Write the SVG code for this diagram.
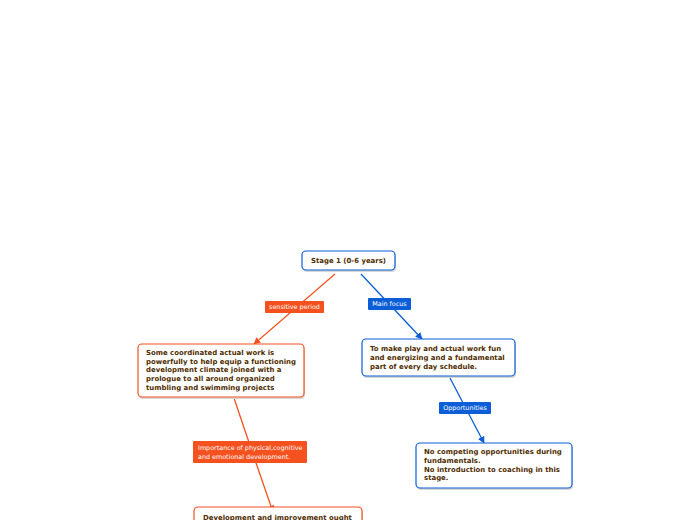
<svg xmlns="http://www.w3.org/2000/svg" width="696" height="520" viewBox="0 0 696 520">
<defs>
<style>
.node{fill:#fff;stroke-width:1.2}
.sh{fill:#d8d8d8}
.o{stroke:#f4511e}
.b{stroke:#0b5ed7}
.t{font-family:"DejaVu Sans",Verdana,sans-serif;font-weight:bold;font-size:6.95px;fill:#4f2c00}
.lb{font-family:"DejaVu Sans",Verdana,sans-serif;font-size:6.4px;fill:#fff}
.lo{fill:#f4511e}
.lbb{fill:#0b5ed7}
.c{fill:none;stroke-width:1.3}
</style>
<marker id="ao" viewBox="0 0 10 10" refX="9" refY="5" markerWidth="7" markerHeight="7" orient="auto" markerUnits="userSpaceOnUse"><path d="M0,0 L10,5 L0,10 z" fill="#f4511e"/></marker>
<marker id="ab" viewBox="0 0 10 10" refX="9" refY="5" markerWidth="7" markerHeight="7" orient="auto" markerUnits="userSpaceOnUse"><path d="M0,0 L10,5 L0,10 z" fill="#0b5ed7"/></marker>
</defs>
<rect width="696" height="520" fill="#fff"/>
<g id="connectors">
<path class="c" d="M335,274 L254,344" stroke="#f4511e" marker-end="url(#ao)"/>
<path class="c" d="M361,274 L422,339" stroke="#0b5ed7" marker-end="url(#ab)"/>
<path class="c" d="M450,378 L484,443" stroke="#0b5ed7" marker-end="url(#ab)"/>
<path class="c" d="M234,398 Q248,440 273,512" stroke="#f4511e" marker-end="url(#ao)"/>
<g id="label-sensitive"><rect class="lo" x="265" y="301" width="59" height="12" rx="1"/><text class="lb" x="294.5" y="309.4" text-anchor="middle">sensitive period</text></g>
<g id="label-main"><rect class="lbb" x="368" y="298" width="43" height="12" rx="1"/><text class="lb" x="389.5" y="306.4" text-anchor="middle">Main focus</text></g>
<g id="label-opp"><rect class="lbb" x="439" y="402" width="52" height="12" rx="1"/><text class="lb" x="465" y="410.4" text-anchor="middle">Opportunities</text></g>
<g id="label-importance"><rect class="lo" x="193" y="441" width="114" height="22" rx="1"/><text class="lb" x="198" y="449.6">Importance of physical,cognitive</text><text class="lb" x="198" y="458.6">and emotional development.</text></g>
</g>
<g id="root"><rect class="sh" x="303" y="253" width="93" height="19" rx="4"/><rect class="node b" x="302" y="251" width="93" height="19" rx="4"/><text class="t" x="348.5" y="263.3" text-anchor="middle">Stage 1 (0-6 years)</text></g>
<g id="n-left"><rect class="sh" x="139" y="346" width="166" height="53" rx="4"/><rect class="node o" x="138" y="344" width="166" height="53" rx="4"/>
<text class="t"><tspan x="146" y="355">Some coordinated actual work is</tspan><tspan x="146" y="363.5">powerfully to help equip a functioning</tspan><tspan x="146" y="372">development climate joined with a</tspan><tspan x="146" y="380.8">prologue to all around organized</tspan><tspan x="146" y="389.5">tumbling and swimming projects</tspan></text></g>
<g id="n-right"><rect class="sh" x="363" y="341" width="153" height="37" rx="4"/><rect class="node b" x="362" y="339" width="153" height="37" rx="4"/>
<text class="t"><tspan x="370" y="351.3">To make play and actual work fun</tspan><tspan x="370" y="360">and energizing and a fundamental</tspan><tspan x="370" y="368.6">part of every day schedule.</tspan></text></g>
<g id="n-opp"><rect class="sh" x="417" y="445" width="156" height="45" rx="4"/><rect class="node b" x="416" y="443" width="156" height="45" rx="4"/>
<text class="t"><tspan x="424" y="454.2">No competing opportunities during</tspan><tspan x="424" y="462.6">fundamentals.</tspan><tspan x="424" y="471.6">No introduction to coaching in this</tspan><tspan x="424" y="480">stage.</tspan></text></g>
<g id="n-bottom"><rect class="sh" x="195" y="509" width="168" height="30" rx="4"/><rect class="node o" x="194" y="507" width="168" height="30" rx="4"/>
<text class="t"><tspan x="203" y="519.5">Development and improvement ought</tspan></text></g>
</svg>
